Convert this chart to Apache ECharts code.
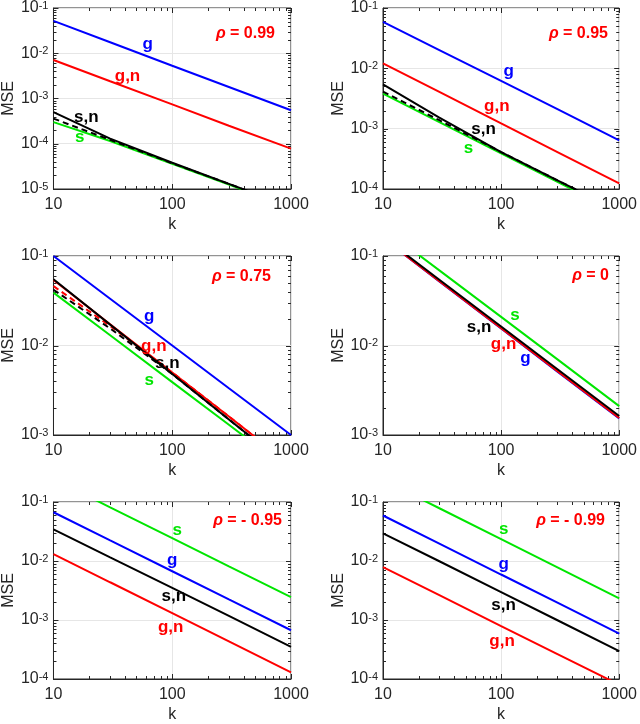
<!DOCTYPE html>
<html>
<head>
<meta charset="utf-8">
<script src="https://cdn.jsdelivr.net/npm/echarts@6/dist/echarts.min.js"></script>
<style>html,body{margin:0;background:#fff}#chart{width:640px;height:724px}</style>
</head>
<body>
<div id="chart"></div>
<script>
// sample positions on k axis
const K = [10, 30, 100, 300, 1000];
const rhoText = ['0.99', '0.95', '0.75', '0', '- 0.95', '- 0.99'];
const yMinExp = [-5, -4, -3, -3, -4, -4];

// MSE per panel, at K
const mseG = [
  [0.052, 0.0175, 5.3e-3, 1.8e-3, 5.5e-4],
  [0.059, 0.0201, 6.2e-3, 2.1e-3, 6.4e-4],
  [0.1, 0.0333, 0.01, 3.33e-3, 1e-3],
  [0.158, 0.052, 0.0155, 5.1e-3, 1.53e-3],
  [0.067, 0.0223, 6.7e-3, 2.23e-3, 6.7e-4],
  [0.059, 0.0197, 5.9e-3, 1.97e-3, 5.9e-4]
];
const mseGN = [
  [7.1e-3, 2.4e-3, 7.4e-4, 2.5e-4, 7.8e-5],
  [0.0121, 4.06e-3, 1.22e-3, 4.1e-4, 1.24e-4],
  [0.054, 0.0173, 5.0e-3, 1.61e-3, 4.6e-4],
  [0.158, 0.0523, 0.0156, 5.17e-3, 1.55e-3],
  [0.0131, 4.36e-3, 1.31e-3, 4.35e-4, 1.29e-4],
  [7.85e-3, 2.63e-3, 7.9e-4, 2.65e-4, 8.0e-5]
];
const mseS = [
  [3.0e-4, 1.15e-4, 3.6e-5, 1.25e-5, 3.9e-6],
  [3.8e-3, 1.28e-3, 3.9e-4, 1.31e-4, 4.0e-5],
  [0.039, 0.013, 3.9e-3, 1.3e-3, 3.9e-4],
  [0.206, 0.069, 0.0209, 7.0e-3, 2.1e-3],
  [0.244, 0.0813, 0.0244, 8.1e-3, 2.44e-3],
  [0.236, 0.0783, 0.0234, 7.8e-3, 2.32e-3]
];
const mseSN = [
  [5.0e-4, 1.3e-4, 3.8e-5, 1.3e-5, 4.0e-6],
  [5.4e-3, 1.53e-3, 4.1e-4, 1.39e-4, 4.3e-5],
  [0.055, 0.0171, 4.8e-3, 1.49e-3, 4.2e-4],
  [0.163, 0.0543, 0.0163, 5.43e-3, 1.63e-3],
  [0.0344, 0.0115, 3.5e-3, 1.17e-3, 3.5e-4],
  [0.0295, 9.9e-3, 2.96e-3, 9.9e-4, 2.98e-4]
];
// dashed curves (only where visible)
const dashSN = [
  [3.6e-4, 1.22e-4, 3.7e-5, 1.3e-5, 4.0e-6],
  [4.1e-3, 1.38e-3, 4.1e-4, 1.39e-4, 4.3e-5],
  [0.042, 0.0155, 4.8e-3, 1.49e-3, 4.2e-4],
  null, null, null
];
const dashGN = [null, null, [0.046, 0.0165, 5.0e-3, 1.61e-3, 4.6e-4], null, null, null];

// label anchors [k, mse]
const labG  = [[62, 0.016], [116, 8.95e-3], [64, 0.0214], [161, 7.2e-3], [100, 0.0101], [105, 8.9e-3]];
const labGN = [[42, 3.05e-3], [92, 2.36e-3], [70, 9.9e-3], [105, 0.0103], [97, 7.4e-4], [102, 4.4e-4]];
const labSN = [[18.9, 3.77e-4], [71, 9.8e-4], [91, 6.3e-3], [65, 0.016], [103, 2.54e-3], [105, 1.8e-3]];
const labS  = [[16.6, 1.37e-4], [53, 4.74e-4], [64, 4.12e-3], [131, 0.0219], [110, 0.0329], [105, 0.035]];

const FONT = 'Liberation Sans';
const AX = '#262626';
const boxes = [[52, 7, 239, 182], [383, 7, 239, 182], [52, 256, 239, 179], [383, 256, 239, 179], [52, 502, 239, 180], [383, 502, 239, 180]];
const rhoPos = [[360, 21], [27, 21], [364, 264], [26, 263], [353, 508], [30, 508]];

const pairs = (arr) => K.map((k, j) => [k, arr[j]]);

const grid = [], xAxis = [], yAxis = [], series = [], title = [];

boxes.forEach((b, i) => {
  grid.push({ left: b[0], top: b[1], width: b[2], height: b[3], show: true, borderColor: AX, borderWidth: 1 });
  xAxis.push({
    type: 'log', gridIndex: i, min: 10, max: 1000, logBase: 10,
    name: 'k', nameLocation: 'middle', nameGap: 28,
    nameTextStyle: { fontFamily: FONT, fontSize: 16, color: AX },
    axisLine: { lineStyle: { color: AX } }, axisTick: { show: false },
    axisLabel: { fontFamily: FONT, fontSize: 16, color: AX, margin: 8, formatter: v => String(Math.round(v)) },
    splitLine: { show: true, lineStyle: { color: '#e6e6e6' } }
  });
  yAxis.push({
    type: 'log', gridIndex: i, min: Math.pow(10, yMinExp[i]), max: 0.1, logBase: 10,
    name: 'MSE', nameLocation: 'middle', nameGap: 35,
    nameTextStyle: { fontFamily: FONT, fontSize: 16, color: AX },
    axisLine: { lineStyle: { color: AX } }, axisTick: { show: false },
    axisLabel: {
      margin: 5, formatter: v => '{b|10}{s|' + Math.round(Math.log10(v)) + '}',
      rich: {
        b: { fontFamily: FONT, fontSize: 16, lineHeight: 16, color: AX, verticalAlign: 'bottom' },
        s: { fontFamily: FONT, fontSize: 11, lineHeight: 11, color: AX, verticalAlign: 'top', padding: [0, 0, 7, 0] }
      }
    },
    splitLine: { show: true, lineStyle: { color: '#e6e6e6' } }
  });

  const mk = (lab, name, color) => ({
    symbol: 'circle', symbolSize: 1, itemStyle: { color: 'rgba(0,0,0,0)' }, silent: true,
    label: { show: true, position: 'inside', formatter: '{b}', color: color, fontFamily: FONT, fontWeight: 'bold', fontSize: 17 },
    data: [{ name: name, coord: lab[i] }]
  });
  const line = (arr, color, dashed, lab, name) => {
    const s = {
      type: 'line', xAxisIndex: i, yAxisIndex: i, data: pairs(arr), showSymbol: false, symbol: 'none',
      lineStyle: { color: color, width: 2, type: dashed ? [6, 4] : 'solid' }, clip: true, silent: true
    };
    if (lab) s.markPoint = mk(lab, name, color);
    return s;
  };

  series.push(line(mseG[i], '#0000ff', false, labG, 'g'));
  if (dashGN[i]) series.push(line(dashGN[i], '#ff0000', true));
  series.push(line(mseGN[i], '#ff0000', false, labGN, 'g,n'));
  series.push(line(mseS[i], '#00e600', false, labS, 's'));
  if (dashSN[i]) series.push(line(dashSN[i], '#000000', true));
  series.push(line(mseSN[i], '#000000', false, labSN, 's,n'));

  // box ticks (inside, all four sides, with minor ticks)
  const yMin = Math.pow(10, yMinExp[i]);
  const ticks = [];
  [10, 100].forEach(d => { for (let m = 1; m <= 9; m++) ticks.push([d * m, yMin, 0, m === 1 ? 1 : 0]); });
  ticks.push([1000, yMin, 0, 1]);
  for (let e = yMinExp[i]; e <= -2; e++) for (let m = 1; m <= 9; m++) ticks.push([10, m * Math.pow(10, e), 1, m === 1 ? 1 : 0]);
  ticks.push([10, 0.1, 1, 1]);
  series.push({
    type: 'custom', xAxisIndex: i, yAxisIndex: i, data: ticks, silent: true, clip: false,
    encode: { x: 0, y: 1 },
    renderItem: (params, api) => {
      const cs = params.coordSys;
      const len = api.value(3) ? 5 : 3;
      const p = api.coord([api.value(0), api.value(1)]);
      const st = { stroke: AX, lineWidth: 1 };
      if (api.value(2) === 0) {
        const x = Math.round(p[0]) + 0.5;
        return { type: 'group', children: [
          { type: 'line', shape: { x1: x, y1: cs.y + cs.height, x2: x, y2: cs.y + cs.height - len }, style: st },
          { type: 'line', shape: { x1: x, y1: cs.y, x2: x, y2: cs.y + len }, style: st }
        ] };
      }
      const y = Math.round(p[1]) + 0.5;
      return { type: 'group', children: [
        { type: 'line', shape: { x1: cs.x, y1: y, x2: cs.x + len, y2: y }, style: st },
        { type: 'line', shape: { x1: cs.x + cs.width, y1: y, x2: cs.x + cs.width - len, y2: y }, style: st }
      ] };
    }
  });

  title.push({
    text: '{i|ρ} = ' + rhoText[i], right: rhoPos[i][0], top: rhoPos[i][1],
    textStyle: {
      fontFamily: FONT, fontSize: 16, fontWeight: 'bold', color: '#ff0000',
      rich: { i: { fontFamily: FONT, fontSize: 16, fontWeight: 'bold', fontStyle: 'italic', color: '#ff0000' } }
    }
  });
});

const myChart = echarts.init(document.getElementById('chart'));
myChart.setOption({ animation: false, title: title, grid: grid, xAxis: xAxis, yAxis: yAxis, series: series });
</script>
</body>
</html>
